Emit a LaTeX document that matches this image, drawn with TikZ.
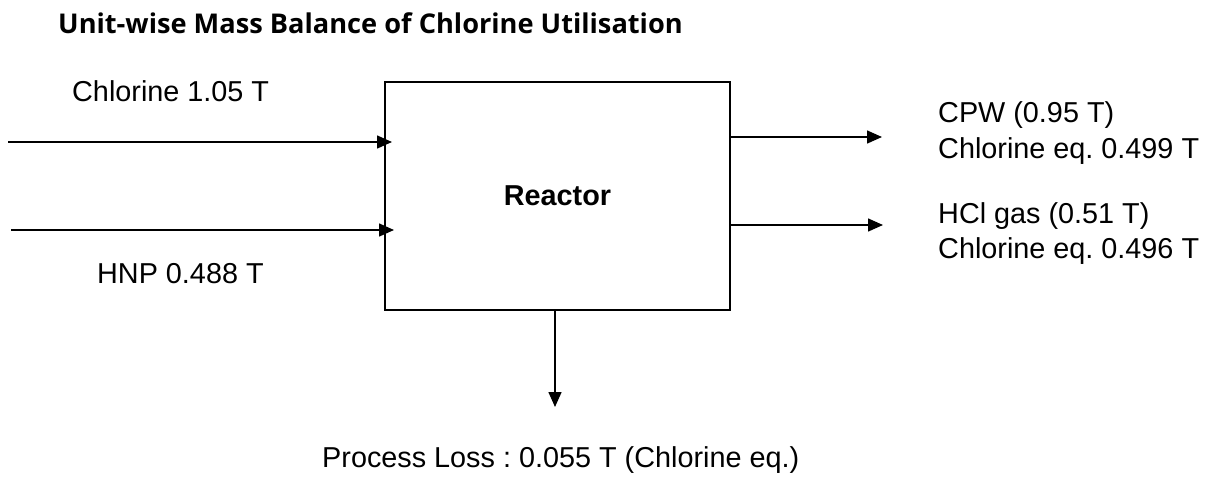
\documentclass[tikz,border=0pt]{standalone}
\usepackage{fontspec}
\setmainfont{Liberation Sans}
\newfontfamily\titlefont{Open Sans}
\usetikzlibrary{arrows.meta}
\frenchspacing
\begin{document}
\begin{tikzpicture}[x=1pt,y=-1pt,
  flow/.style={line width=1.5pt,-{Triangle[length=15pt,width=13pt]}},
  lbl/.style={anchor=base west,inner sep=0pt,font=\fontsize{28.8}{34}\selectfont},
  ttl/.style={anchor=base west,inner sep=0pt,font=\titlefont\bfseries\fontsize{27.2}{32}\selectfont}]
\useasboundingbox (0,0) rectangle (1221,490);
\node[draw,line width=1.5pt,minimum width=345pt,minimum height=228pt,inner sep=0pt,
  font=\bfseries\fontsize{28.8}{34}\selectfont] (reactor) at (557.5,196) {Reactor};
\node[ttl] (title) at (58,33) {Unit-wise Mass Balance of Chlorine Utilisation};
\node[lbl] (cl) at (72,101) {Chlorine 1.05 T};
\node[lbl] (hnp) at (97,283) {HNP 0.488 T};
\node[lbl] (cpw1) at (938,122) {CPW (0.95 T)};
\node[lbl] (cpw2) at (938,158) {Chlorine eq. 0.499 T};
\node[lbl] (hcl1) at (938,223) {HCl gas (0.51 T)};
\node[lbl] (hcl2) at (938,258) {Chlorine eq. 0.496 T};
\node[lbl] (loss) at (322,467) {Process Loss : 0.055 T (Chlorine eq.)};
\coordinate (a1s) at (8,142);
\coordinate (a1e) at (392,142);
\coordinate (a2s) at (11,230);
\coordinate (a2e) at (394,230);
\coordinate (b1s) at (reactor.east |- 0,137);
\coordinate (b1e) at (882,137);
\coordinate (b2s) at (reactor.east |- 0,225);
\coordinate (b2e) at (883,225);
\coordinate (ds) at (555,310);
\coordinate (de) at (555,407);
\draw[flow] (a1s) -- (a1e);
\draw[flow] (a2s) -- (a2e);
\draw[flow] (b1s) -- (b1e);
\draw[flow] (b2s) -- (b2e);
\draw[flow] (ds) -- (de);
\end{tikzpicture}
\end{document}
